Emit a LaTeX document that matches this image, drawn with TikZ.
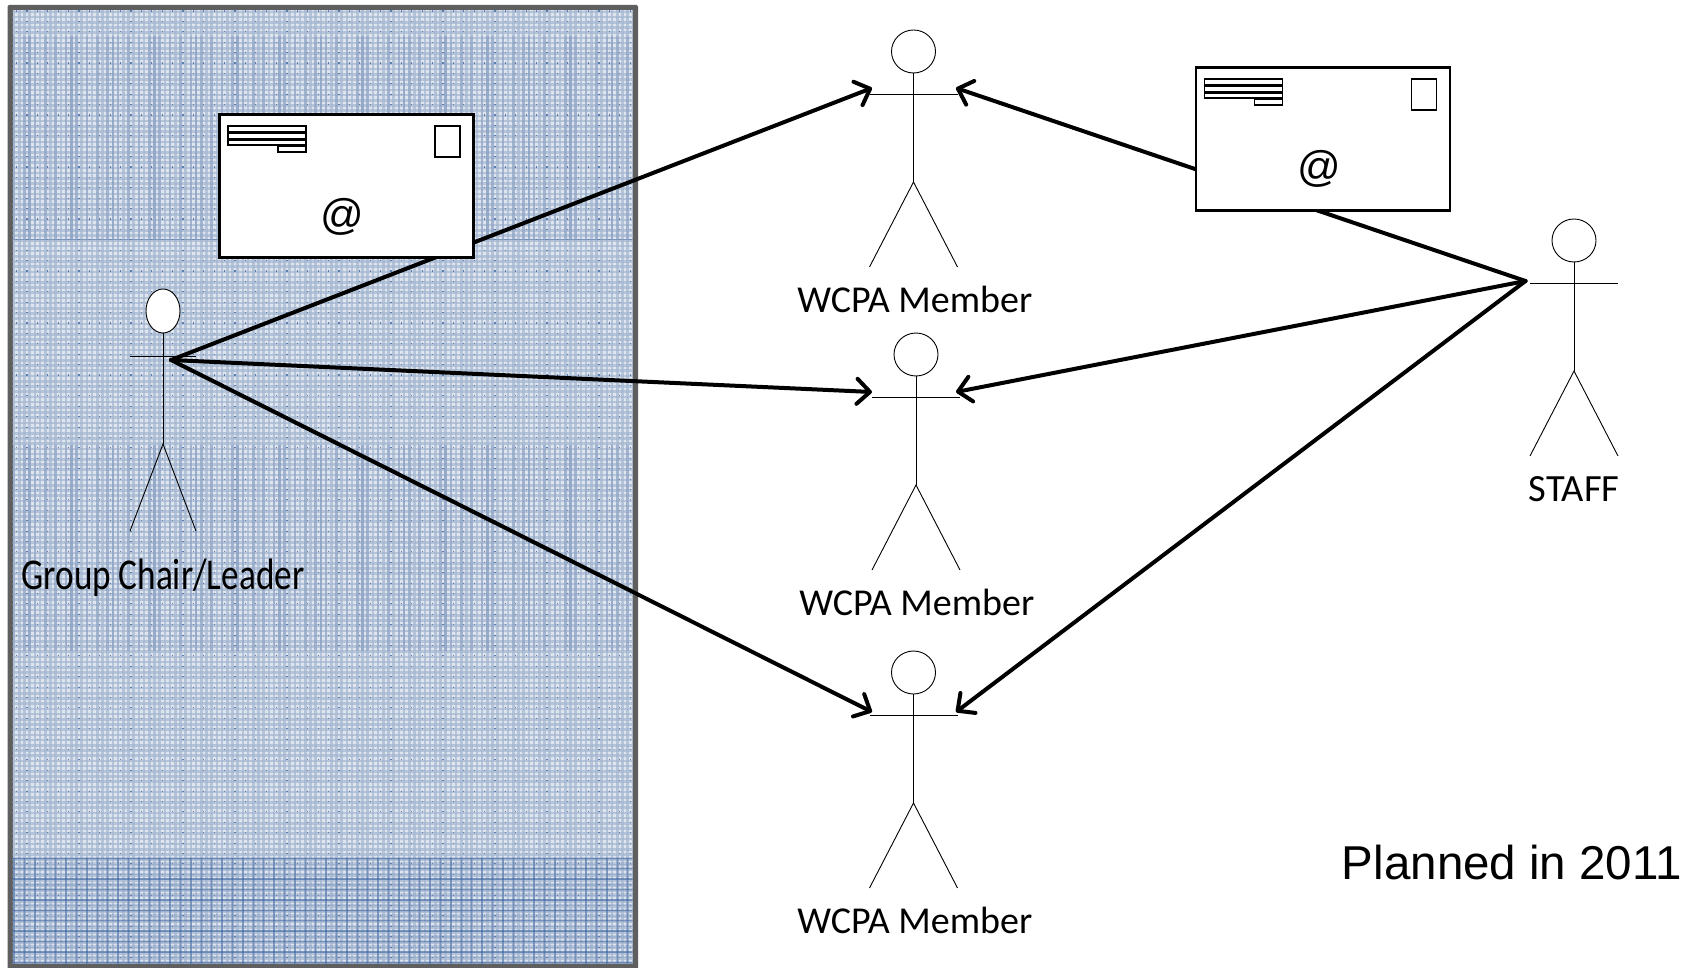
\documentclass[tikz,border=0pt]{standalone}
\usepackage{fontspec}
\setmainfont{Liberation Sans}
\newfontfamily\lblfont{Carlito}
\usetikzlibrary{arrows.meta}
\definecolor{panelbase}{HTML}{DEE5EF}
\definecolor{stripe}{HTML}{A5B7D1}
\definecolor{stripedark}{HTML}{7D96BC}
\definecolor{stripedeep}{HTML}{2A5A9C}
\definecolor{dotc}{HTML}{5A7DAE}
\definecolor{bordergrey}{HTML}{5F5F5F}
\tikzset{
  actorline/.style={draw=black,line width=.9pt},
  msg/.style={draw=black,line width=4pt,line cap=round,-{Straight Barb[length=13pt,width=25pt,round]}},
  envbox/.style={draw=black,line width=2.6pt,fill=white,minimum width=254pt,minimum height=143pt,inner sep=0pt,anchor=north west},
  adr/.style={draw=black,line width=1.6pt,fill=white},
  lbl/.style={inner sep=0pt,font=\lblfont},
  at sign/.style={inner sep=0pt,font=\fontsize{43}{43}\selectfont},
  plan/.style={inner sep=0pt,anchor=base east,font=\fontsize{47.5}{47.5}\selectfont}
}
% cx, head top, half head width, head height, arm dy, crotch dy, foot dy, half span, name
\newcommand{\stick}[9]{%
  \draw[actorline,fill=white] (#1,#2+#4/2) ellipse [x radius=#3,y radius=#4/2];
  \draw[actorline] (#1,#2+#4) -- (#1,#2+#6);
  \draw[actorline] (#1-#8,#2+#5) -- (#1+#8,#2+#5);
  \draw[actorline] (#1-#8,#2+#7) -- (#1,#2+#6) -- (#1+#8,#2+#7);
  \coordinate (#9) at (#1,#2+#7);
}
\newcommand{\envdetail}[2]{%
  \begin{scope}[shift={(#1,#2)}]
    \draw[adr] (228,126) rectangle (306,132);
    \draw[adr] (228,133) rectangle (306,139);
    \draw[adr] (228,140) rectangle (306,145);
    \draw[adr] (278,146.5) rectangle (306,152);
    \draw[draw=black,line width=1.7pt,fill=white] (435,126) rectangle (460,157);
  \end{scope}
}
\begin{document}
\begin{tikzpicture}[x=1pt,y=-1pt]
\useasboundingbox (0,0) rectangle (1687,968);
% panel
\fill[white] (0,0) rectangle (1687,968);
\fill[bordergrey,rounded corners=1.5pt] (7.5,5) rectangle (638,975);
\begin{scope}
  \clip (12.5,10.5) rectangle (632.5,963);
  \fill[panelbase] (12.5,10.5) rectangle (632.5,963);
  \draw[stripe,line width=2.6pt,opacity=.7]
    \foreach \y in {12,17.2,...,966} {(12,\y)--(633,\y)};
  \draw[stripe,line width=2.6pt,opacity=.7]
    \foreach \x in {14,19.2,...,634} {(\x,10)--(\x,964)};
  % bands with darker vertical stripes
  \foreach \ya/\yb in {36/240,445/651}{
    \draw[stripedark,line width=2.6pt,opacity=.35]
      \foreach \x in {14,24.4,...,634} {(\x,\ya)--(\x,\yb)};
    \draw[stripedark,line width=2.6pt,opacity=.5]
      \foreach \x in {29.6,71.2,...,634} {(\x,\ya)--(\x,\yb)};
  }
  % bottom band
  \draw[stripedark,line width=2.6pt,opacity=.35]
    \foreach \x in {14,24.4,...,634} {(\x,858)--(\x,964)};
  \draw[stripedark,line width=2.6pt,opacity=.35]
    \foreach \y in {858.2,863.4,...,966} {(12,\y)--(633,\y)};
  \draw[stripedeep,line width=1.4pt,opacity=.45]
    \foreach \y in {858.2,868.6,...,966} {(12,\y)--(633,\y)};
  \draw[stripedeep,line width=1.4pt,opacity=.3]
    \foreach \x in {14,24.4,...,634} {(\x,858)--(\x,964)};
  % boundary lines
  \draw[stripedark,line width=1pt] (12,240)--(633,240);
  % small dots
  \draw[dotc,line width=1.1pt,dash pattern=on 1.1pt off 9.3pt]
    \foreach \x in {16.6,27,...,634} {(\x,10.5)--(\x,963)};
\end{scope}

% actors
\stick{163}{289}{17}{44}{67.7}{155}{242}{33}{leaderfoot}
\stick{913.5}{30}{22}{43}{64}{152}{237}{44}{mafoot}
\stick{916}{333}{22}{43}{64}{152}{237}{44}{mbfoot}
\stick{913.5}{651}{22}{43}{64}{152}{237}{44}{mcfoot}
\stick{1574}{219}{22}{43}{64}{152}{237}{44}{stfoot}

% connector end points
\coordinate (lead) at (171,360);
\coordinate (staff) at (1525.5,281);
\coordinate (aL) at (872,88);
\coordinate (aR) at (956,88);
\coordinate (bL) at (872,392);
\coordinate (bR) at (956,392);
\coordinate (cL) at (872,712);
\coordinate (cR) at (956,712);

% connectors
\draw[msg] (lead) -- (aL);
\draw[msg] (lead) -- (bL);
\draw[msg] (lead) -- (cL);
\draw[msg] (staff) -- (aR);
\draw[msg] (staff) -- (bR);
\draw[msg] (staff) -- (cR);

% envelopes
\node[envbox] (env1) at (218,113) {};
\envdetail{0}{0}
\node[at sign] (at1) at (342,216.5) {@};
\node[envbox] (env2) at (1194.5,66) {};
\envdetail{976.5}{-47}
\node[at sign] (at2) at (1319,169) {@};

% labels
\node[lbl] (l0) at (163,577.5) {\scalebox{.8}[1]{\fontsize{44}{44}\selectfont Group Chair/Leader}};
\node[lbl] (l1) at (914.8,299) {\fontsize{38}{38}\selectfont WCPA Member};
\node[lbl] (l2) at (916.8,602) {\fontsize{38}{38}\selectfont WCPA Member};
\node[lbl] (l3) at (914.8,920) {\fontsize{38}{38}\selectfont WCPA Member};
\node[lbl] (l4) at (1574,489) {\fontsize{38.5}{38.5}\selectfont STAFF};
\node[plan] (plan) at (1682,879) {Planned in 2011};
\end{tikzpicture}
\end{document}
